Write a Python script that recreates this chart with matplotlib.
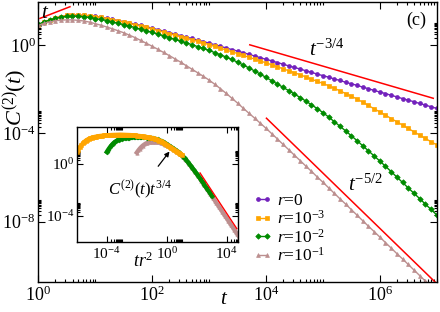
import numpy as np
import matplotlib
matplotlib.use('Agg')
import matplotlib.pyplot as plt
from matplotlib.ticker import FixedLocator, LogFormatterMathtext, NullFormatter

plt.rcParams['font.family'] = ['Liberation Serif', 'DejaVu Serif']
plt.rcParams['mathtext.fontset'] = 'custom'
plt.rcParams['mathtext.rm'] = 'Liberation Serif'
plt.rcParams['mathtext.it'] = 'Liberation Serif:italic'
plt.rcParams['mathtext.bf'] = 'Liberation Serif:bold'

log_t = np.arange(71) / 10.0
r_values = [0.0, 1e-3, 1e-2, 1e-1]
labels = [r'$r$=0', r'$r$=10$^{-3}$', r'$r$=10$^{-2}$', r'$r$=10$^{-1}$']

logC_r0 = [0.90, 1.02, 1.12, 1.21, 1.28, 1.33, 1.35, 1.35, 1.34, 1.32,
           1.29, 1.25, 1.20, 1.15, 1.10, 1.05, 0.99, 0.94, 0.88, 0.82,
           0.76, 0.69, 0.62, 0.56, 0.49, 0.42, 0.35, 0.29, 0.22, 0.15,
           0.08, 0.01, -0.06, -0.14, -0.21, -0.28, -0.35, -0.43, -0.50, -0.58,
           -0.65, -0.72, -0.80, -0.87, -0.95, -1.02, -1.09, -1.17, -1.24, -1.32,
           -1.39, -1.46, -1.54, -1.61, -1.69, -1.76, -1.83, -1.91, -1.98, -2.06,
           -2.13, -2.20, -2.28, -2.35, -2.43, -2.50, -2.57, -2.65, -2.72, -2.80,
           -2.87]
logC_r3 = [0.90, 1.02, 1.12, 1.21, 1.28, 1.33, 1.35, 1.35, 1.34, 1.31,
           1.28, 1.24, 1.19, 1.14, 1.08, 1.03, 0.97, 0.91, 0.85, 0.79,
           0.72, 0.65, 0.58, 0.51, 0.44, 0.37, 0.30, 0.23, 0.16, 0.09,
           0.01, -0.07, -0.15, -0.23, -0.31, -0.39, -0.47, -0.56, -0.64, -0.73,
           -0.81, -0.90, -0.99, -1.08, -1.17, -1.26, -1.35, -1.45, -1.55, -1.65,
           -1.74, -1.85, -1.96, -2.08, -2.20, -2.32, -2.45, -2.59, -2.74, -2.89,
           -3.03, -3.18, -3.33, -3.48, -3.63, -3.78, -3.93, -4.08, -4.23, -4.38,
           -4.52]
logC_r2 = [0.93, 1.04, 1.13, 1.20, 1.26, 1.29, 1.30, 1.30, 1.28, 1.24,
           1.19, 1.15, 1.10, 1.04, 0.98, 0.91, 0.85, 0.78, 0.71, 0.64,
           0.57, 0.49, 0.41, 0.33, 0.25, 0.17, 0.09, 0.01, -0.08, -0.16,
           -0.25, -0.35, -0.45, -0.55, -0.66, -0.78, -0.91, -1.04, -1.18, -1.32,
           -1.47, -1.62, -1.77, -1.92, -2.07, -2.22, -2.38, -2.54, -2.71, -2.88,
           -3.06, -3.26, -3.47, -3.68, -3.89, -4.11, -4.33, -4.56, -4.79, -5.02,
           -5.25, -5.49, -5.73, -5.98, -6.22, -6.47, -6.71, -6.95, -7.20, -7.44,
           -7.69]
logC_r1 = [0.88, 0.97, 1.04, 1.09, 1.12, 1.13, 1.13, 1.11, 1.08, 1.03,
           0.96, 0.89, 0.81, 0.73, 0.64, 0.55, 0.44, 0.33, 0.20, 0.07,
           -0.06, -0.20, -0.34, -0.48, -0.63, -0.78, -0.94, -1.10, -1.26, -1.42,
           -1.59, -1.78, -1.98, -2.19, -2.41, -2.63, -2.86, -3.09, -3.31, -3.54,
           -3.77, -4.01, -4.25, -4.50, -4.74, -4.99, -5.23, -5.48, -5.72, -5.97,
           -6.21, -6.46, -6.71, -6.96, -7.20, -7.45, -7.70, -7.95, -8.20, -8.44,
           -8.69, -8.94, -9.19, -9.44, -9.68, -9.93, -10.18, -10.43, -10.68, -10.92,
           -11.17]
series = [logC_r0, logC_r3, logC_r2, logC_r1]

colors = ['#7221BC', '#FFA500', '#008B00', '#BC8F8F']
markers = ['o', 's', 'D', '^']

# guide lines: (exponent, prefactor, t_start, t_end)
guides_main = [(1.0, 10**1.17, 1.07, 3.6),
               (-0.75, 10**2.79, 5.2e3, 8.7e6),
               (-2.5, 10**6.705, 1.02e4, 1.0e7)]
guide_inset = (-1.75, 10**3.195, 10**2.22, 10**4.67)

W, H = 440, 312
fig = plt.figure(figsize=(W / 100, H / 100), dpi=100)

def px(x, y):
    return x / W, 1 - y / H

def style_axis(ax, xmaj, xmin, ymaj, ymin, size, maj_len, min_len):
    ax.set_xscale('log')
    ax.set_yscale('log')
    ax.xaxis.set_major_locator(FixedLocator(xmaj))
    ax.xaxis.set_minor_locator(FixedLocator(xmin))
    ax.yaxis.set_major_locator(FixedLocator(ymaj))
    ax.yaxis.set_minor_locator(FixedLocator(ymin))
    ax.xaxis.set_major_formatter(LogFormatterMathtext())
    ax.yaxis.set_major_formatter(LogFormatterMathtext())
    ax.xaxis.set_minor_formatter(NullFormatter())
    ax.yaxis.set_minor_formatter(NullFormatter())
    ax.tick_params(which='both', direction='in', top=True, right=True,
                   labelsize=size, width=0.8)
    ax.tick_params(which='major', length=maj_len)
    ax.tick_params(which='minor', length=min_len)
    ax.tick_params(axis='x', pad=3)
    ax.tick_params(axis='y', pad=2)
    for s in ax.spines.values():
        s.set_linewidth(1.0)

def minors(exps):
    return [m * 10.0**e for e in exps for m in range(2, 11)]

# main axes
ax = fig.add_axes([38.3 / W, 1 - 281.7 / H, (436.7 - 38.3) / W, (281.7 - 2) / H])
for vals, c, m, lab in zip(series, colors, markers, labels):
    ax.plot(10**log_t, 10**np.array(vals), color=c, marker=m, ms=2.8,
            mew=0.5, lw=1.0, label=lab)
for p, a, t0, t1 in guides_main:
    tt = np.array([t0, t1])
    ax.plot(tt, a * tt**p, color='red', lw=1.1)
ax.set_xlim(1, 1e7)
ax.set_ylim(10**-10.71, 10**1.94)
style_axis(ax, [1e0, 1e2, 1e4, 1e6], minors([0, 2, 4, 6]),
           [1e-8, 1e-4, 1e0], minors([-12, -8, -4, 0]), 13, 5, 2.5)
ax.set_ylabel(r'$C^{(2)}(t)$', fontsize=16, labelpad=0)
ax.yaxis.set_label_coords(-0.02, 0.66)
ax.set_xlabel(r'$t$', fontsize=15, labelpad=0)
ax.xaxis.set_label_coords(0.466, -0.03)

leg = ax.legend(loc='upper left', bbox_to_anchor=px(253, 192.7),
                bbox_transform=fig.transFigure, frameon=False, fontsize=12.5,
                handlelength=1.1, handletextpad=0.3, labelspacing=0.05,
                borderpad=0, borderaxespad=0, numpoints=2)

fig.text(*px(45, 14), r'$t$', fontsize=15, ha='center', va='center')
fig.text(*px(309, 50), r'$t^{-3/4}$', fontsize=15, ha='left', va='center')
fig.text(*px(348, 185), r'$t^{-5/2}$', fontsize=15, ha='left', va='center')
fig.text(*px(416, 20), '(c)', fontsize=13, ha='center', va='center')

# inset: C t^{3/4} vs t r^2
ins = fig.add_axes([77.3 / W, 1 - 241.7 / H, 161 / W, 115 / H])
ins.set_facecolor('white')
for vals, c, m, r in list(zip(series, colors, markers, r_values))[::-1]:
    if r == 0:
        continue
    x = 10**(log_t + 2 * np.log10(r))
    y = 10**(np.array(vals) + 0.75 * log_t)
    ins.plot(x, y, color=c, marker=m, ms=2.5, mew=0.4, lw=3.0)
p, a, x0, x1 = guide_inset
xx = np.array([x0, x1])
ins.plot(xx, a * xx**p, color='red', lw=1.0)
ins.set_xlim(10**-5.96, 10**4.77)
ins.set_ylim(10**-5.98, 10**2.87)
style_axis(ins, [1e-4, 1e0, 1e4], minors([-8, -4, 0, 4]),
           [1e-4, 1e0], minors([-8, -4, 0]), 11, 4, 2)
ins.annotate(r'$C^{(2)}(t)t^{3/4}$', xy=px(169.5, 151.5), xycoords='figure fraction',
             xytext=px(140, 190), textcoords='figure fraction', fontsize=12,
             ha='center', va='center',
             arrowprops=dict(arrowstyle='-|>', color='black', lw=0.9,
                             mutation_scale=7, shrinkA=9, shrinkB=0))
fig.text(*px(143, 261), r'$tr^2$', fontsize=13, ha='center', va='center')

fig.savefig('out.png', dpi=100)
